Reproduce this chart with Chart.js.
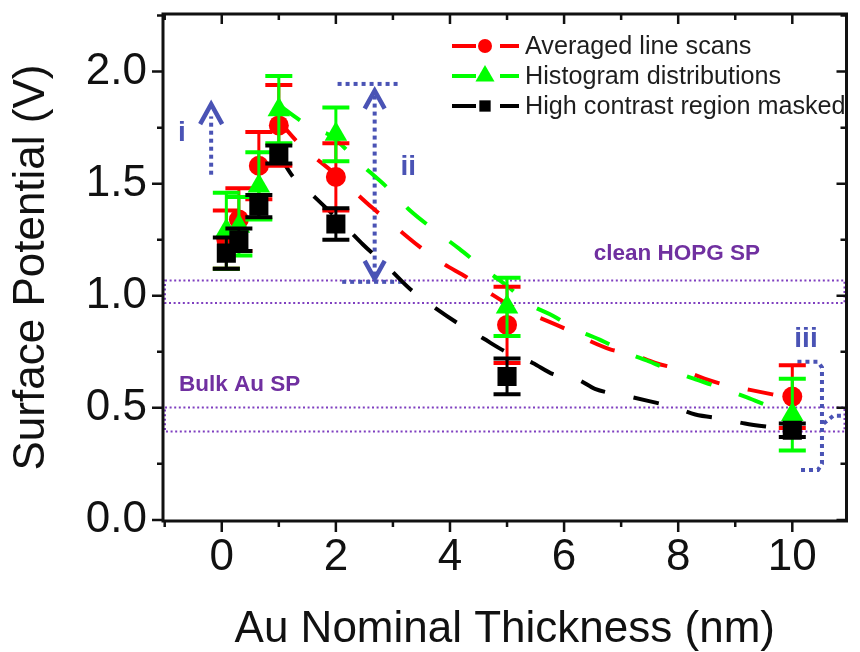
<!DOCTYPE html>
<html><head><meta charset="utf-8">
<script src="https://cdn.jsdelivr.net/npm/chart.js@4/dist/chart.umd.min.js"></script>
<style>html,body{margin:0;padding:0;background:#fff}#wrap{width:860px;height:652px;position:relative}</style>
</head><body><div id="wrap"><canvas id="c"></canvas></div>
<script>
// ---------- data ----------
const thickness = [0.08, 0.3, 0.65, 1, 2, 5, 10];            // Au nominal thickness (nm)
const avgLineScans     = [1.25, 1.34, 1.58, 1.76, 1.53, 0.87, 0.55];
const avgLineScansErr  = [0.13, 0.14, 0.15, 0.18, 0.15, 0.17, 0.14];
const histogramDist    = [1.29, 1.31, 1.49, 1.83, 1.72, 0.95, 0.47];
const histogramDistErr = [0.17, 0.13, 0.15, 0.15, 0.12, 0.13, 0.16];
const maskedRegion     = [1.19, 1.25, 1.40, 1.63, 1.32, 0.64, 0.40];
const maskedRegionErr  = [0.07, 0.05, 0.05, 0.04, 0.07, 0.08, 0.03];

// dashed guide curves
const fitAvgX = [1.0, 1.35, 2.0, 2.65, 3.03, 3.46, 3.84, 4.31, 4.71, 5.1, 5.49, 6.04, 6.35, 6.82, 7.18, 7.6, 8.05, 8.46, 8.86, 9.26, 9.65, 9.85];
const fitAvgY = [1.78, 1.68, 1.54, 1.39, 1.31, 1.22, 1.15, 1.08, 1.01, 0.95, 0.91, 0.85, 0.81, 0.76, 0.74, 0.70, 0.67, 0.63, 0.60, 0.58, 0.56, 0.55];
const fitHistX = [1.0, 1.64, 1.87, 2.47, 2.87, 3.3, 3.69, 4.16, 4.55, 5.02, 5.41, 5.81, 6.2, 6.66, 7.06, 7.46, 7.84, 8.27, 8.62, 9.17, 9.57, 9.8];
const fitHistY = [1.85, 1.74, 1.72, 1.58, 1.49, 1.38, 1.30, 1.21, 1.13, 1.04, 0.96, 0.91, 0.85, 0.80, 0.75, 0.71, 0.67, 0.63, 0.60, 0.55, 0.51, 0.49];
const fitMaskX = [1.0, 1.25, 1.63, 2.2, 2.47, 2.94, 3.3, 3.77, 4.15, 4.58, 4.98, 5.45, 5.81, 6.25, 6.54, 7.15, 7.49, 7.96, 8.3, 8.8, 9.17, 9.72];
const fitMaskY = [1.63, 1.53, 1.44, 1.30, 1.23, 1.12, 1.03, 0.94, 0.875, 0.81, 0.75, 0.70, 0.65, 0.625, 0.585, 0.55, 0.53, 0.50, 0.47, 0.45, 0.43, 0.41];

const hopgBand   = [0.968, 1.068];   // clean HOPG SP
const bulkAuBand = [0.394, 0.501];   // Bulk Au SP

const xTickLabels = [0, 2, 4, 6, 8, 10];
const yTickLabels = [0.0, 0.5, 1.0, 1.5, 2.0];
const seriesNames = ['Averaged line scans', 'Histogram distributions', 'High contrast region masked'];

// ---------- styling ----------
const FONT = '"Liberation Sans", Arial, sans-serif';
const RED = '#ff0000', GREEN = '#00ff00', BLACK = '#000000';
const PURPLE_TEXT = '#7030a0', PURPLE_LINE = '#7f3fc0', BLUE = '#4a53b5';

const pts = (xs, ys) => xs.map((x, i) => ({x, y: ys[i]}));

function markerPath(ctx, style, x, y, r) {
  ctx.beginPath();
  if (style === 'circle') ctx.arc(x, y, r, 0, Math.PI * 2);
  else if (style === 'triangle') {
    ctx.moveTo(x, y - r);
    ctx.lineTo(x + 0.866 * r, y + r / 2);
    ctx.lineTo(x - 0.866 * r, y + r / 2);
    ctx.closePath();
  } else {
    const s = r * Math.SQRT1_2;
    ctx.rect(x - s, y - s, 2 * s, 2 * s);
  }
}

const errorBars = {
  id: 'errorBars',
  beforeDatasetDraw(chart, args) {
    const ds = chart.data.datasets[args.index];
    if (!ds.errors) return;
    const {ctx, scales: {y}} = chart;
    const meta = args.meta;
    ctx.save();
    ctx.strokeStyle = ds.borderColor;
    ds.data.forEach((p, i) => {
      const e = ds.errors[i];
      const px = meta.data[i].x;
      const yt = y.getPixelForValue(p.y + e), yb = y.getPixelForValue(p.y - e);
      ctx.lineWidth = 3;
      ctx.beginPath(); ctx.moveTo(px, yt); ctx.lineTo(px, yb); ctx.stroke();
      ctx.lineWidth = 4;
      ctx.beginPath();
      ctx.moveTo(px - 13.5, yt); ctx.lineTo(px + 13.5, yt);
      ctx.moveTo(px - 13.5, yb); ctx.lineTo(px + 13.5, yb);
      ctx.stroke();
    });
    ctx.restore();
  }
};

function dotted(ctx, pts2) {
  ctx.beginPath();
  ctx.moveTo(pts2[0][0], pts2[0][1]);
  for (let i = 1; i < pts2.length; i++) ctx.lineTo(pts2[i][0], pts2[i][1]);
  ctx.stroke();
}

const annotations = {
  id: 'annotations',
  beforeDatasetsDraw(chart) {
    const {ctx, chartArea: a, scales: {x, y}} = chart;
    const X = v => x.getPixelForValue(v), Y = v => y.getPixelForValue(v);
    ctx.save();
    // purple dotted bands
    ctx.strokeStyle = PURPLE_LINE; ctx.lineWidth = 2; ctx.setLineDash([2, 2.6]);
    [hopgBand, bulkAuBand].forEach(([lo, hi]) => {
      ctx.strokeRect(a.left + 2, Y(hi), a.right - a.left - 4, Y(lo) - Y(hi));
    });
    ctx.setLineDash([]);
    ctx.fillStyle = PURPLE_TEXT;
    ctx.font = 'bold 22.5px ' + FONT;
    ctx.textBaseline = 'alphabetic'; ctx.textAlign = 'left';
    ctx.fillText('clean HOPG SP', X(6.52), Y(1.16));
    ctx.fillText('Bulk Au SP', X(-0.75), Y(0.576));

    // blue arrows
    ctx.strokeStyle = BLUE; ctx.lineWidth = 4; ctx.setLineDash([4, 4]);
    dotted(ctx, [[X(-0.186), Y(1.54)], [X(-0.186), Y(1.80)]]);
    dotted(ctx, [[X(2.68), Y(1.09)], [X(2.68), Y(1.90)]]);
    dotted(ctx, [[X(2.03), Y(1.945)], [X(3.12), Y(1.945)]]);
    dotted(ctx, [[X(2.11), Y(1.062)], [X(3.2), Y(1.062)]]);
    dotted(ctx, [[X(10.09), Y(0.705)], [X(10.45), Y(0.705)], [X(10.52), Y(0.68)], [X(10.52), Y(0.25)], [X(10.45), Y(0.223)], [X(10.09), Y(0.223)]]);
    dotted(ctx, [[X(10.55), Y(0.43)], [X(10.72), Y(0.465)], [X(10.95), Y(0.465)]]);
    ctx.setLineDash([]);
    ctx.lineWidth = 4.5; ctx.lineJoin = 'miter';
    const chev = (cx, cy, dir, hw, h) => {
      ctx.beginPath();
      ctx.moveTo(cx - hw, cy + dir * h); ctx.lineTo(cx, cy); ctx.lineTo(cx + hw, cy + dir * h);
      ctx.stroke();
    };
    chev(X(-0.186), Y(1.855), 1, 11, 20);
    chev(X(2.68), Y(1.915), 1, 10, 18);
    chev(X(2.68), Y(1.075), -1, 10, 18);

    ctx.fillStyle = BLUE;
    ctx.font = 'bold 28px ' + FONT;
    ctx.textAlign = 'center';
    ctx.fillText('i', X(-0.70), Y(1.69));
    ctx.fillText('ii', X(3.27), Y(1.54));
    ctx.fillText('iii', X(10.24), Y(0.77));
    ctx.restore();
  }
};

const frame = {
  id: 'frame',
  afterDatasetsDraw(chart) {
    const {ctx, chartArea: a, scales: {x, y}} = chart;
    ctx.save();
    ctx.strokeStyle = '#111'; ctx.lineWidth = 3;
    ctx.strokeRect(a.left, a.top, a.right - a.left, a.bottom - a.top);
    ctx.lineWidth = 2.5;
    ctx.beginPath();
    for (let v = -1; v <= 11; v += 1) {
      const px = x.getPixelForValue(v);
      if (px < a.left - 0.5 || px > a.right + 0.5) continue;
      const major = v % 2 === 0;
      ctx.moveTo(px, a.bottom); ctx.lineTo(px, a.bottom + (major ? 11 : 6));
      ctx.moveTo(px, a.top); ctx.lineTo(px, a.top + (major ? 10 : 6));
    }
    for (let k = 0; k <= 9; k++) {
      const v = k * 0.25;
      const py = y.getPixelForValue(v);
      if (py < a.top - 0.5 || py > a.bottom + 0.5) continue;
      const major = k % 2 === 0;
      ctx.moveTo(a.left, py); ctx.lineTo(a.left - (major ? 11 : 6), py);
      ctx.moveTo(a.right, py); ctx.lineTo(a.right - (major ? 10 : 6), py);
    }
    ctx.stroke();
    ctx.restore();
  }
};

const legendBox = {
  id: 'legendBox',
  afterDraw(chart) {
    const {ctx} = chart;
    const items = [
      {c: RED, s: 'circle', r: 7},
      {c: GREEN, s: 'triangle', r: 11},
      {c: BLACK, s: 'rect', r: 8}
    ];
    const rows = [46, 76, 106];
    ctx.save();
    items.forEach((it, i) => {
      const yy = rows[i];
      ctx.strokeStyle = it.c; ctx.fillStyle = it.c; ctx.lineWidth = 4;
      ctx.beginPath(); ctx.moveTo(452, yy); ctx.lineTo(476, yy); ctx.moveTo(500, yy); ctx.lineTo(519, yy); ctx.stroke();
      markerPath(ctx, it.s, 485, yy, it.r); ctx.fill();
      ctx.fillStyle = '#1e1e1e';
      ctx.font = '25.2px ' + FONT;
      ctx.textBaseline = 'middle'; ctx.textAlign = 'left';
      ctx.fillText(seriesNames[i], 525, yy + 1);
    });
    ctx.restore();
  }
};

const noPad = s => { s.paddingTop = 0; s.paddingBottom = 0; s.paddingLeft = 0; s.paddingRight = 0; };

const fitStyle = {showLine: true, pointRadius: 0, borderWidth: 4, borderDash: [26, 29], fill: false, cubicInterpolationMode: 'monotone'};

new Chart(document.getElementById('c'), {
  type: 'scatter',
  data: {
    datasets: [
      {label: seriesNames[2], data: pts(thickness, maskedRegion), errors: maskedRegionErr, pointStyle: 'rect', pointRadius: 13.5, backgroundColor: BLACK, borderColor: BLACK, borderWidth: 0, order: 0},
      {label: seriesNames[1], data: pts(thickness, histogramDist), errors: histogramDistErr, pointStyle: 'triangle', pointRadius: 13, backgroundColor: GREEN, borderColor: GREEN, borderWidth: 0, order: 1},
      {label: seriesNames[0], data: pts(thickness, avgLineScans), errors: avgLineScansErr, pointStyle: 'circle', pointRadius: 10, backgroundColor: RED, borderColor: RED, borderWidth: 0, order: 2},
      Object.assign({label: 'fit masked', data: pts(fitMaskX, fitMaskY), borderColor: BLACK, order: 3}, fitStyle),
      Object.assign({label: 'fit histogram', data: pts(fitHistX, fitHistY), borderColor: GREEN, order: 4}, fitStyle),
      Object.assign({label: 'fit averaged', data: pts(fitAvgX, fitAvgY), borderColor: RED, order: 5}, fitStyle)
    ]
  },
  options: {
    responsive: true, maintainAspectRatio: false, animation: false,
    layout: {padding: {top: 14, right: 3, left: 0, bottom: 0}},
    plugins: {legend: {display: false}, tooltip: {enabled: false}},
    scales: {
      x: {
        type: 'linear', min: -1.03, max: 10.95,
        afterBuildTicks: s => { s.ticks = xTickLabels.map(v => ({value: v})); },
        afterFit: s => { s.height = 131; noPad(s); },
        grid: {display: false, drawTicks: false},
        border: {display: false},
        ticks: {padding: 10, color: '#111', font: {size: 44, family: FONT}, callback: v => String(v)},
        title: {display: true, text: 'Au Nominal Thickness (nm)', color: '#111', font: {size: 44, family: FONT, lineHeight: 1}, padding: {top: 0, bottom: 0}}
      },
      y: {
        type: 'linear', min: -0.005, max: 2.257,
        afterBuildTicks: s => { s.ticks = yTickLabels.map(v => ({value: v})); },
        afterFit: s => { s.width = 163; noPad(s); },
        grid: {display: false, drawTicks: false},
        border: {display: false},
        ticks: {padding: 16, color: '#111', font: {size: 44, family: FONT}, callback: v => Number(v).toFixed(1)},
        title: {display: true, text: 'Surface Potential (V)', color: '#111', font: {size: 44, family: FONT, lineHeight: 1}, padding: {top: 10, bottom: 0}}
      }
    }
  },
  plugins: [annotations, errorBars, frame, legendBox]
});
</script>
</body></html>
